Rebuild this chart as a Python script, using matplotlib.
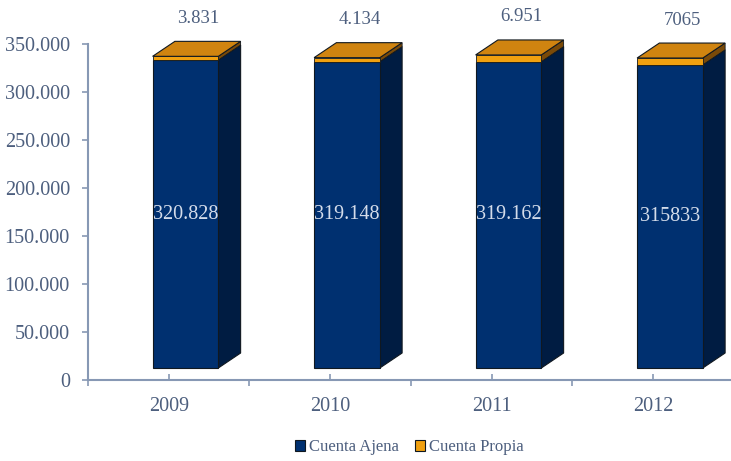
import numpy as np
import matplotlib
matplotlib.use("Agg")
import matplotlib.pyplot as plt
from matplotlib.patches import Polygon, Rectangle

# Data
years = ["2009", "2010", "2011", "2012"]
cuenta_ajena = [320828, 319148, 319162, 315833]
cuenta_propia = [3831, 4134, 6951, 7065]
ajena_labels = ["320.828", "319.148", "319.162", "315833"]
propia_labels = ["3.831", "4.134", "6.951", "7065"]
yticks = [0, 50000, 100000, 150000, 200000, 250000, 300000, 350000]
ytick_labels = ["0", "50.000", "100.000", "150.000", "200.000", "250.000", "300.000", "350.000"]

plt.rcParams['font.family'] = ['Liberation Serif', 'DejaVu Serif']

text_col = "#4d5f7e"
axis_col = "#8798b4"
blue_front = "#003070"
blue_side = "#001c42"
orange_front = "#f0a010"
orange_top = "#d08410"
orange_side = "#7a4a08"
edge = "#101820"

fig = plt.figure(figsize=(7.31, 4.61), dpi=100)
ax = fig.add_axes([88/731, 81/461, 646/731, 336/461])
ax.set_xlim(0, 4)
ax.set_ylim(0, 350000)

# 3D look: depth offsets and floor offset (data units)
dx = 0.138
dy = 15600
y0 = 12500
left_off = 0.10
width = 0.407

for i in range(len(years)):
    c = i + 0.5
    x0 = c - left_off
    x1 = x0 + width
    a = cuenta_ajena[i]
    p = cuenta_propia[i]
    ya = y0 + a
    yt = ya + p

    # blue side and front
    ax.add_patch(Polygon([(x1, y0), (x1 + dx, y0 + dy), (x1 + dx, ya + dy), (x1, ya)],
                         closed=True, fc=blue_side, ec=edge, lw=0.8, clip_on=False))
    ax.add_patch(Rectangle((x0, y0), width, a, fc=blue_front, ec=edge, lw=0.8, clip_on=False))
    # orange side, front and top
    ax.add_patch(Polygon([(x1, ya), (x1 + dx, ya + dy), (x1 + dx, yt + dy), (x1, yt)],
                         closed=True, fc=orange_side, ec=edge, lw=0.6, clip_on=False))
    ax.add_patch(Rectangle((x0, ya), width, p, fc=orange_front, ec=edge, lw=0.6, clip_on=False))
    ax.add_patch(Polygon([(x0, yt), (x1, yt), (x1 + dx, yt + dy), (x0 + dx, yt + dy)],
                         closed=True, fc=orange_top, ec=edge, lw=0.8, clip_on=False))

    ax.text(x0 + width / 2, y0 + a / 2, ajena_labels[i], ha="center", va="center",
            color="#d4dcea", fontsize=14.5)
    ax.text(c + 0.18, yt + dy + 24000, propia_labels[i], ha="center", va="center",
            color=text_col, fontsize=13.5, clip_on=False)

# axes styling
for s in ["top", "right"]:
    ax.spines[s].set_visible(False)
for s in ["left", "bottom"]:
    ax.spines[s].set_color(axis_col)
    ax.spines[s].set_linewidth(1.5)

ax.set_yticks(yticks)
ax.set_yticklabels(ytick_labels)
ax.tick_params(axis="y", colors=axis_col, labelcolor=text_col, labelsize=14.5,
               length=4, width=1.2, direction="out", pad=9)

ax.set_xticks(np.arange(0, 5))
ax.set_xticklabels([])
ax.set_xticks(np.arange(len(years)) + 0.5, minor=True)
ax.set_xticklabels(years, minor=True)
ax.tick_params(axis="x", which="major", colors=axis_col, length=4, width=1.2, direction="out")
ax.tick_params(axis="x", which="minor", colors=axis_col, labelcolor=text_col, labelsize=14.5,
               length=4, width=1.2, direction="in", pad=12)

# legend
h1 = Rectangle((0, 0), 1, 1, fc=blue_front, ec=edge, lw=0.8)
h2 = Rectangle((0, 0), 1, 1, fc=orange_front, ec=edge, lw=0.8)
leg = fig.legend([h1, h2], ["Cuenta Ajena", "Cuenta Propia"], loc="center",
                 bbox_to_anchor=(0.56, 0.03), ncol=2, frameon=False, fontsize=12,
                 handlelength=0.6, handleheight=0.6, handletextpad=0.2, columnspacing=1.0)
for t in leg.get_texts():
    t.set_color(text_col)

fig.savefig("out.png", dpi=100)
